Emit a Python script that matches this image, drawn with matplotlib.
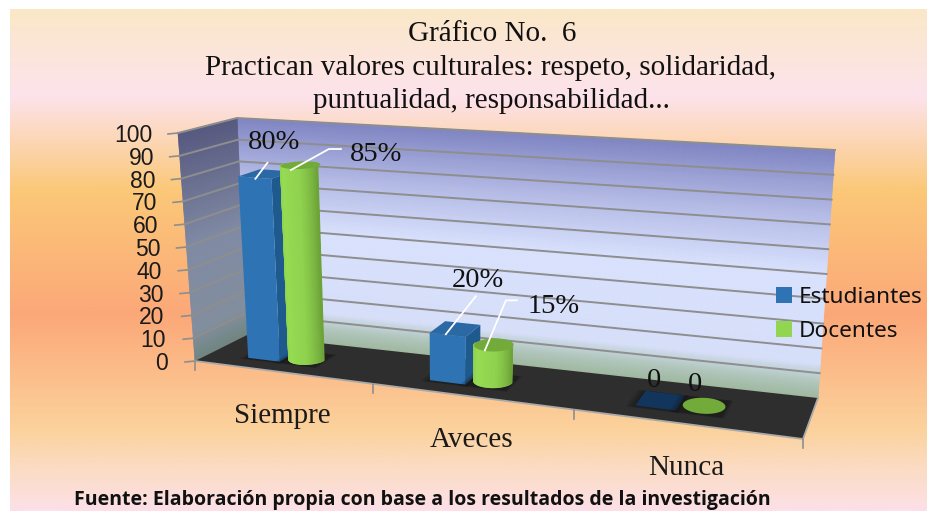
import numpy as np
from matplotlib import pyplot as plt
from matplotlib.collections import PolyCollection
from matplotlib.colors import LinearSegmentedColormap
from matplotlib.patches import Patch, Polygon

categories = ['Siempre', 'Aveces', 'Nunca']
estudiantes = [80, 20, 0]
docentes = [85, 15, 0]
estudiantes_lbl = ['80%', '20%', '0']
docentes_lbl = ['85%', '15%', '0']
value_ticks = [0, 10, 20, 30, 40, 50, 60, 70, 80, 90, 100]

SERIF = 'Liberation Serif'
SANS = 'Noto Sans'

# corners of the 3d box in pixels: [left, right] for (depth, height)
FL0, FR0 = np.array([195., 361.]), np.array([803., 439.])
BL0, BR0 = np.array([247., 335.]), np.array([818., 398.])
FL1, FR1 = np.array([178., 133.]), np.array([828., 177.])
BL1, BR1 = np.array([237., 118.]), np.array([835., 150.])
PERSP = 0.83  # categories get wider towards the right


def proj(cat, val, depth):
    # category 0-3, value 0-100, depth 0-1 (0 is the front) -> pixel
    u = float(cat) / 3
    u = PERSP * u / (1 + (PERSP - 1) * u)
    v = float(val) / 100
    d = float(depth)
    bottom = (FL0 * (1 - d) + BL0 * d) * (1 - u) + (FR0 * (1 - d) + BR0 * d) * u
    top = (FL1 * (1 - d) + BL1 * d) * (1 - u) + (FR1 * (1 - d) + BR1 * d) * u
    return bottom * (1 - v) + top * v


def gradient_wall(ax, stops, corners, zorder):
    # corners gives (cat, depth) at both ends of the wall
    cmap = LinearSegmentedColormap.from_list('w', stops)
    levels = np.linspace(0, 100, 121)
    (c0, d0), (c1, d1) = corners
    quads, cols = [], []
    for a, b in zip(levels[:-1], levels[1:]):
        quads.append([proj(c0, a, d0), proj(c1, a, d1), proj(c1, b, d1), proj(c0, b, d0)])
        cols.append(cmap((a + b) / 200))
    ax.add_collection(PolyCollection(quads, facecolors=cols, edgecolors=cols, linewidths=0.5, zorder=zorder))


def shadow(ax, c0, c1, z):
    # soft dark halo on the floor around the foot of a bar
    for grow, alpha in [(0.04, 0.12), (0.03, 0.16), (0.02, 0.2), (0.01, 0.25)]:
        pts = [proj(c0 - grow, 0, 0.28 - grow), proj(c1 + grow * 0.5, 0, 0.28 - grow),
               proj(c1 + grow * 0.5, 0, 0.7), proj(c0 - grow, 0, 0.7)]
        ax.add_patch(Polygon(pts, fc='#141414', ec='none', alpha=alpha, zorder=z))


def box(ax, c0, c1, val, z):
    d0, d1 = 0.3, 0.7
    shadow(ax, c0, c1, z)
    if val > 0:
        ax.add_patch(Polygon([proj(c1, 0, d0), proj(c1, 0, d1), proj(c1, val, d1), proj(c1, val, d0)],
                             fc='#1f5a8e', ec='none', zorder=z))
        ax.add_patch(Polygon([proj(c0, 0, d0), proj(c1, 0, d0), proj(c1, val, d0), proj(c0, val, d0)],
                             fc='#2e74b5', ec='none', zorder=z))
    top_col = '#2a69a3' if val > 0 else '#12355c'
    ax.add_patch(Polygon([proj(c0, val, d0), proj(c1, val, d0), proj(c1, val, d1), proj(c0, val, d1)],
                         fc=top_col, ec='none', zorder=z))


def cylinder(ax, c0, c1, val, z):
    mid, r = (c0 + c1) / 2, (c1 - c0) / 2
    shadow(ax, c0, c1, z)
    cmap = LinearSegmentedColormap.from_list('g', ['#86c548', '#97dc54', '#8fd24e', '#6da339'])
    if val > 0:
        th = np.linspace(np.pi, 2 * np.pi, 41)
        quads, cols = [], []
        for i, (a, b) in enumerate(zip(th[:-1], th[1:])):
            ca, sa = np.cos(a), np.sin(a)
            cb, sb = np.cos(b), np.sin(b)
            quads.append([proj(mid + r * ca, 0, 0.5 + 0.2 * sa), proj(mid + r * cb, 0, 0.5 + 0.2 * sb),
                          proj(mid + r * cb, val, 0.5 + 0.2 * sb), proj(mid + r * ca, val, 0.5 + 0.2 * sa)])
            cols.append(cmap(i / 39))
        ax.add_collection(PolyCollection(quads, facecolors=cols, edgecolors=cols, linewidths=0.9, zorder=z))
    th = np.linspace(0, 2 * np.pi, 61)
    top = [proj(mid + r * np.cos(t), val, 0.5 + 0.2 * np.sin(t)) for t in th]
    ax.add_patch(Polygon(top, fc='#72ab3a', ec='none', zorder=z))


fig = plt.figure(figsize=(9.27, 5.11), dpi=100)
ax = fig.add_axes([0, 0, 1, 1])

# page background, colour by pixel row
bg_y = np.array([9, 95, 190, 315, 430, 470, 511])
bg_c = ['#fae8c8', '#fde3ec', '#fbc878', '#fca878', '#fbd29c', '#fbdcc4', '#fde0e8']
bg_pos = (bg_y - 9) / (511 - 9)
bg_map = LinearSegmentedColormap.from_list('bg', list(zip(bg_pos, bg_c)))
ax.imshow(np.linspace(0, 1, 256)[:, None], cmap=bg_map, aspect='auto', extent=[10, 927, 511, 9], zorder=0)

# walls and floor
back_stops = [(0, '#9db8a0'), (0.07, '#b2c8c0'), (0.14, '#d6e0fb'), (0.5, '#d8e2ff'), (0.75, '#b2b9e6'), (1, '#7f85c3')]
left_stops = [(0, '#6d8580'), (0.12, '#818e9e'), (0.5, '#7f8aa5'), (1, '#55587f')]
gradient_wall(ax, back_stops, [(0, 1), (3, 1)], 1)
gradient_wall(ax, left_stops, [(0, 0), (0, 1)], 1)
ax.add_patch(Polygon([proj(0, 0, 0), proj(3, 0, 0), proj(3, 0, 1), proj(0, 0, 1)], fc='#2e2e2e', ec='none', zorder=2))

grid = '#8e8e8e'
for val in value_ticks:
    if val > 0:
        pts = np.array([proj(0, val, 0), proj(0, val, 1), proj(3, val, 1)])
        ax.plot(pts[:, 0], pts[:, 1], color=grid, lw=1.4, zorder=3, solid_joinstyle='miter')
    x, y = proj(0, val, 0)
    ax.plot([x - 10, x], [y + 1, y], color=grid, lw=1.2, zorder=3)
    ax.text(x - 27 + val * 0.02 - 0.3, y + 2.5, str(val), ha='right', va='center', family='Liberation Sans',
            fontsize=16.5, color='#1a1a1a', zorder=6)

# floor edge and category ticks
pts = np.array([proj(0, 0, 0), proj(3, 0, 0), proj(3, 0, 1)])
ax.plot(pts[:, 0], pts[:, 1], color='#a9a9a9', lw=1.3, zorder=3)
for cat in range(4):
    x, y = proj(cat, 0, 0)
    ax.plot([x, x], [y, y + 9], color=grid, lw=1.2, zorder=3)

# bars, left to right so nearer ones overlap
offset = 0.41
for i in range(len(categories)):
    c = i + offset + 0.01 * i
    box(ax, c - 0.185, c, estudiantes[i], 4 + i * 0.1)
    cylinder(ax, c + 0.012, c + 0.2, docentes[i], 4.05 + i * 0.1)
    x, y = proj(i + 0.5, 0, 0)
    ax.text(x + 1, y + 44, categories[i], ha='center', va='center', family=SERIF, fontsize=21,
            color='#1a1a1a', zorder=6)

# data labels with their white leader lines, pixel offsets from the bar top
lbl_est = [(19, -36), (32, -54), (2, -26)]
lbl_doc = [(85, -16), (69, -44), (-1, -27)]
lead_est = [[(12, -16)], [(30, -38)], []]
lead_doc = [[(38, -21), (50, -21)], [(21, -50), (32, -50)], []]
for i in range(len(categories)):
    c = i + offset + 0.01 * i
    for c_lbl, val, txt, off, lead in [(c - 0.1, estudiantes[i], estudiantes_lbl[i], lbl_est[i], lead_est[i]),
                                       (c + 0.1, docentes[i], docentes_lbl[i], lbl_doc[i], lead_doc[i])]:
        x, y = proj(c_lbl, val, 0.45)
        x, y = x - 6, y + 4
        if lead:
            line = np.array([(x, y)] + [(x + a, y + b) for a, b in lead])
            ax.plot(line[:, 0], line[:, 1], color='white', lw=1.3, zorder=6)
        ax.text(x + off[0], y + off[1], txt, ha='center', va='center', family=SERIF, fontsize=20.5,
                color='#111111', zorder=7)

# titles
ax.text(492, 34, 'Gráfico No.  6', ha='center', va='center', family=SERIF, fontsize=21, color='#111111', zorder=6)
ax.text(491, 68, 'Practican valores culturales: respeto, solidaridad,', ha='center', va='center', family=SERIF,
        fontsize=21, color='#111111', zorder=6)
ax.text(491, 101, 'puntualidad, responsabilidad...', ha='center', va='center', family=SERIF, fontsize=21,
        color='#111111', zorder=6)
ax.text(422, 504.5, 'Fuente: Elaboración propia con base a los resultados de la investigación', ha='center',
        va='baseline', family='Open Sans', fontweight='bold', fontsize=14, color='#111111', zorder=6)

handles = [Patch(fc='#2e74b5', ec='none'), Patch(fc='#92d550', ec='none')]
ax.legend(handles, ['Estudiantes', 'Docentes'], loc='center left', bbox_to_anchor=(769, 314.5),
          bbox_transform=ax.transData, frameon=False, prop={'family': SANS, 'size': 16.3}, handlelength=0.72,
          handleheight=0.72, handletextpad=0.3, labelspacing=0.59, borderpad=0, borderaxespad=0.3,
          labelcolor='#111111').set_zorder(8)

ax.set_xlim(0, 927)
ax.set_ylim(511, 0)
ax.axis('off')
fig.savefig('out.png', dpi=100, facecolor='white')
